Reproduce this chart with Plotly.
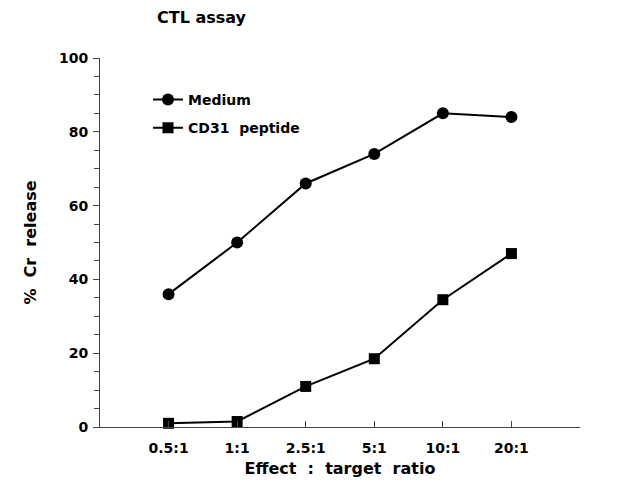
import plotly.graph_objects as go

categories = ["0.5:1", "1:1", "2.5:1", "5:1", "10:1", "20:1"]
positions = [1, 2, 3, 4, 5, 6]
medium = [36, 50, 66, 74, 85, 84]
cd31 = [1, 1.5, 11, 18.5, 34.5, 47]
y_ticks = [0, 20, 40, 60, 80, 100]

FONT = "DejaVu Sans, Liberation Sans, Arial, sans-serif"

fig = go.Figure()
fig.add_trace(go.Scatter(
    x=positions, y=medium, name="Medium", mode="lines+markers",
    line=dict(color="black", width=2),
    marker=dict(symbol="circle", size=12, color="black"),
    legendgroup="a", cliponaxis=False))
fig.add_trace(go.Scatter(
    x=positions, y=cd31, name="CD31  peptide", mode="lines+markers",
    line=dict(color="black", width=2),
    marker=dict(symbol="square", size=11, color="black"),
    legendgroup="b", cliponaxis=False))

fig.update_layout(
    width=623, height=491,
    margin=dict(l=100, r=43, t=58, b=64),
    paper_bgcolor="white", plot_bgcolor="white",
    font=dict(family=FONT, color="black", size=13, weight="bold"),
    showlegend=True,
    legend=dict(x=0.1, y=0.93, xanchor="left", yanchor="top",
                bgcolor="rgba(0,0,0,0)", font=dict(size=14, weight="bold"),
                traceorder="grouped", tracegroupgap=7, itemwidth=30),
    annotations=[dict(text="CTL assay", xref="paper", yref="paper",
                      x=0.212, y=1.0, yshift=41, xanchor="center", yanchor="middle",
                      showarrow=False, font=dict(size=16, weight="bold"))],
)
fig.update_xaxes(
    range=[0, 7], tickvals=positions + [7], ticktext=categories + [""],
    ticks="inside", ticklen=6, tickcolor="#444", tickwidth=1,
    showline=True, linecolor="#444", linewidth=1, showgrid=False, zeroline=False,
    tickfont=dict(size=14, weight="bold"), ticklabelstandoff=8,
    automargin=False,
    title=dict(text="Effect  :  target  ratio", font=dict(size=16, weight="bold"), standoff=8),
)
fig.update_yaxes(
    range=[0, 100], tickvals=y_ticks, ticks="outside", ticklen=6, tickcolor="#444",
    minor=dict(dtick=5, tick0=0, ticks="outside", ticklen=5, tickcolor="#444", showgrid=False),
    showline=True, linecolor="#444", linewidth=1, showgrid=False, zeroline=False,
    tickfont=dict(size=14, weight="bold"), ticklabelstandoff=2,
    automargin=False,
    title=dict(text="%  Cr  release", font=dict(size=16, weight="bold"), standoff=18),
)
fig.write_html("out.html")
